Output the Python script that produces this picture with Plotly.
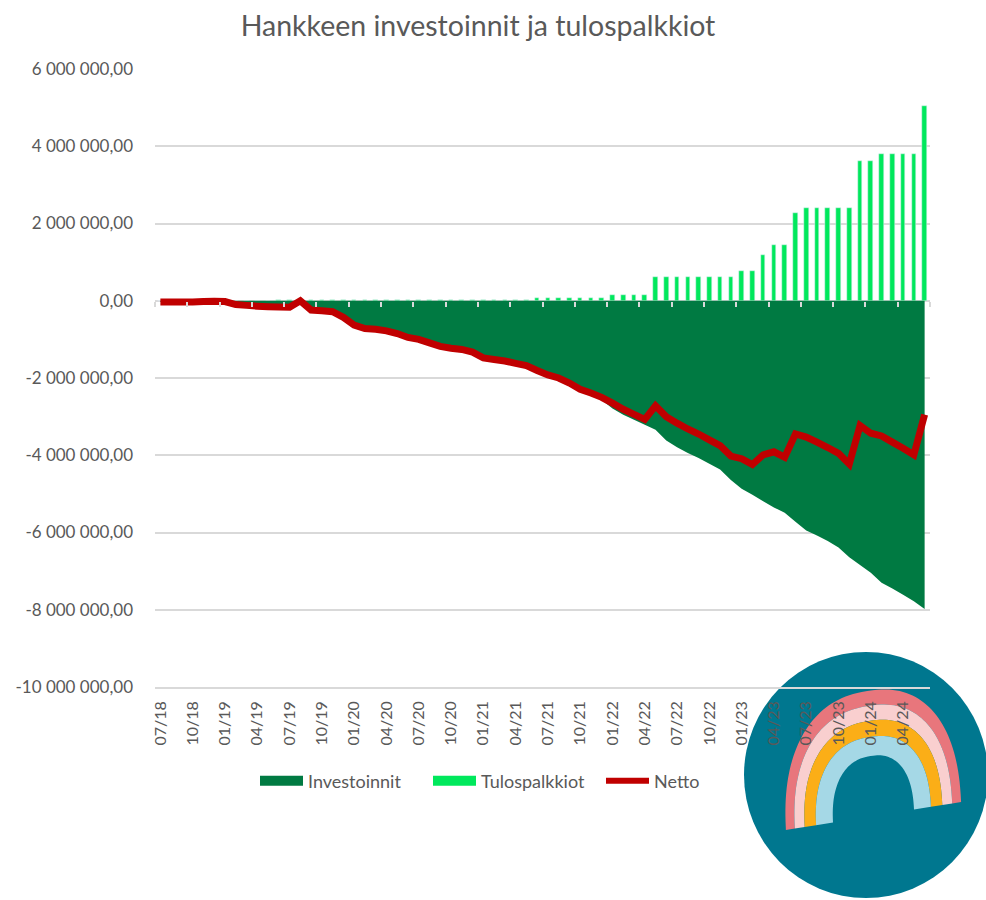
import math
import plotly.graph_objects as go

months = ["07/18","08/18","09/18","10/18","11/18","12/18","01/19","02/19","03/19","04/19","05/19","06/19",
          "07/19","08/19","09/19","10/19","11/19","12/19","01/20","02/20","03/20","04/20","05/20","06/20",
          "07/20","08/20","09/20","10/20","11/20","12/20","01/21","02/21","03/21","04/21","05/21","06/21",
          "07/21","08/21","09/21","10/21","11/21","12/21","01/22","02/22","03/22","04/22","05/22","06/22",
          "07/22","08/22","09/22","10/22","11/22","12/22","01/23","02/23","03/23","04/23","05/23","06/23",
          "07/23","08/23","09/23","10/23","11/23","12/23","01/24","02/24","03/24","04/24","05/24","06/24"]
investoinnit = [-30000,-30000,-30000,-30000,-20000,-10000,-20000,-100000,-120000,-140000,-155000,-180000,
                -185000,-15000,-255000,-275000,-300000,-445000,-645000,-735000,-755000,-795000,-865000,-965000,
                -1015000,-1105000,-1195000,-1245000,-1275000,-1345000,-1495000,-1535000,-1575000,-1635000,-1695000,
                -1875000,-1990000,-2070000,-2200000,-2360000,-2460000,-2570000,-2790000,-2950000,-3080000,-3210000,
                -3340000,-3620000,-3790000,-3940000,-4070000,-4220000,-4370000,-4640000,-4870000,-5020000,-5190000,
                -5350000,-5490000,-5720000,-5950000,-6080000,-6220000,-6390000,-6640000,-6840000,-7040000,-7300000,
                -7450000,-7610000,-7780000,-7980000]
tulospalkkiot = [0,0,0,0,0,0,0,0,0,0,0,15000,15000,15000,15000,15000,15000,15000,15000,15000,15000,15000,15000,15000,
                 15000,15000,15000,15000,15000,15000,15000,15000,15000,15000,15000,70000,70000,70000,70000,70000,70000,70000,
                 140000,140000,140000,140000,620000,620000,620000,620000,620000,620000,620000,620000,780000,780000,1190000,
                 1440000,1440000,2260000,2410000,2410000,2410000,2410000,2410000,3610000,3610000,3800000,3800000,3800000,3800000,5030000]
netto = [-30000,-30000,-30000,-30000,-20000,-10000,-20000,-100000,-120000,-140000,-155000,-165000,
         -170000,0,-240000,-260000,-285000,-430000,-630000,-720000,-740000,-780000,-850000,-950000,
         -1000000,-1090000,-1180000,-1230000,-1260000,-1330000,-1480000,-1520000,-1560000,-1620000,-1680000,
         -1805000,-1920000,-2000000,-2130000,-2290000,-2390000,-2500000,-2650000,-2810000,-2940000,-3070000,
         -2720000,-3000000,-3170000,-3320000,-3450000,-3600000,-3750000,-4020000,-4090000,-4240000,-3990000,
         -3910000,-4050000,-3450000,-3530000,-3660000,-3800000,-3950000,-4230000,-3230000,-3430000,-3500000,
         -3660000,-3820000,-3990000,-2950000]
tick_months = months[::3]
y_ticks = [6000000,4000000,2000000,0,-2000000,-4000000,-6000000,-8000000,-10000000]
y_labels = ["6 000 000,00","4 000 000,00","2 000 000,00","0,00","-2 000 000,00","-4 000 000,00",
            "-6 000 000,00","-8 000 000,00","-10 000 000,00"]

GREY, GRID = "#595959", "#D9D9D9"
DARK, LIGHT, RED = "#007A42", "#00E85C", "#C00000"
TEAL = "#00778F"
FONT = "Lato"
L, R, T, B = 155, 930, 69, 687

def px(x, y):
    return (x - L) / (R - L), (B - y) / (B - T)

fig = go.Figure()
fig.add_trace(go.Scatter(x=months, y=investoinnit, name="Investoinnit", mode="none", fill="tozeroy",
                         fillcolor=DARK, hoverinfo="skip", showlegend=False))
fig.add_trace(go.Bar(x=months, y=tulospalkkiot, name="Tulospalkkiot", marker_color=LIGHT, width=0.43,
                     showlegend=False))
fig.add_trace(go.Scatter(x=months, y=netto, name="Netto", mode="lines",
                         line=dict(color=RED, width=7, shape="linear"), line_simplify=False, showlegend=False))
# Legend entries (wide swatches like the original)
fig.add_trace(go.Scatter(x=[None], y=[None], name="Investoinnit", mode="lines", line=dict(color=DARK, width=12),
                         hoverinfo="skip"))
fig.add_trace(go.Scatter(x=[None], y=[None], name="Tulospalkkiot", mode="lines", line=dict(color=LIGHT, width=12),
                         hoverinfo="skip"))
fig.add_trace(go.Scatter(x=[None], y=[None], name="Netto", mode="lines", line=dict(color=RED, width=6),
                         hoverinfo="skip"))
fig.add_trace(go.Scatter(x=[None], y=[None], xaxis="x2", showlegend=False, hoverinfo="skip"))

# Logo drawn behind the chart
shapes = []
cx0, cy0 = px(744, 652)
cx1, cy1 = px(988, 898)
shapes.append(dict(type="circle", xref="paper", yref="paper", x0=cx0, y0=cy1, x1=cx1, y1=cy0,
                   fillcolor=TEAL, line_width=0, layer="below"))

def arch_pts(a, h, n=2.35, cx=873.5, cy=816.0, tilt=0.16, lean=-0.05, steps=80):
    pts = []
    for i in range(steps + 1):
        t = math.pi * (1 - i / steps)
        c, s = math.cos(t), math.sin(t)
        xx = a * math.copysign(abs(c) ** (2 / n), c)
        yy = h * abs(s) ** (2 / n)
        pts.append(px(cx + xx + lean * yy, cy - yy - xx * tilt))
    return pts

def ring(outer, inner):
    pts = arch_pts(*outer) + arch_pts(*inner)[::-1]
    return "M" + "L".join(f"{p[0]:.5f},{p[1]:.5f}" for p in pts) + "Z"

bands = [(87.6, 125, "#E8767C"), (78.7, 110, "#F9CFCF"), (68.8, 95, "#FBAE17"), (57.4, 79, "#A5D8E6"), (40.5, 60, None)]
for (a, h, col), (a2, h2, _) in zip(bands[:-1], bands[1:]):
    shapes.append(dict(type="path", xref="paper", yref="paper", path=ring((a, h), (a2, h2)),
                       fillcolor=col, line_width=0, layer="below"))

fig.update_layout(
    width=986, height=900, autosize=False,
    margin=dict(l=L, r=986 - R, t=T, b=900 - B, pad=0),
    paper_bgcolor="rgba(255,255,255,0)", plot_bgcolor="rgba(255,255,255,0)",
    font=dict(family=FONT, color=GREY, size=17),
    bargap=0,
    barmode="overlay",
    title=dict(text="Hankkeen investoinnit ja tulospalkkiot", x=478 / 986, xanchor="center", xref="container",
               y=1 - 26 / 900, yanchor="middle", yref="container", font=dict(family=FONT, size=28.5, color=GREY)),
    xaxis=dict(type="category", categoryorder="array", categoryarray=months, range=[-0.5, 71.5],
               tickmode="array", tickvals=tick_months, ticktext=tick_months, tickangle=-90,
               ticks="", showgrid=False, showline=True, linecolor=GRID, linewidth=1.5, zeroline=False,
               ticklabelstandoff=6, tickfont=dict(size=16, color=GREY)),
    xaxis2=dict(type="linear", overlaying="x", anchor="free", position=(B - 301) / (B - T), range=[-0.5, 71.5],
                tickmode="linear", tick0=-0.5, dtick=3, ticks="outside", ticklen=5, tickcolor=GRID, tickwidth=1.5,
                showticklabels=False, showgrid=False, zeroline=False, showline=False),
    yaxis=dict(range=[-10000000, 6000000], tickmode="array", tickvals=y_ticks, ticktext=y_labels,
               gridcolor=GRID, gridwidth=1.5, zeroline=False, showline=False, ticks="",
               ticklabelstandoff=21, tickfont=dict(size=17, color=GREY)),
    legend=dict(orientation="h", x=(263 - 155 - 8) / (R - L), xanchor="left", y=(B - 781) / (B - T), yanchor="middle",
                traceorder="normal", itemwidth=43, entrywidth=115, entrywidthmode="pixels",
                font=dict(size=18, color=GREY), bgcolor="rgba(0,0,0,0)", tracegroupgap=0),
    shapes=shapes,
)
fig.write_html("out.html", config={"displayModeBar": False},
               post_script="document.body.style.margin='0';document.body.style.background='#fff';")
